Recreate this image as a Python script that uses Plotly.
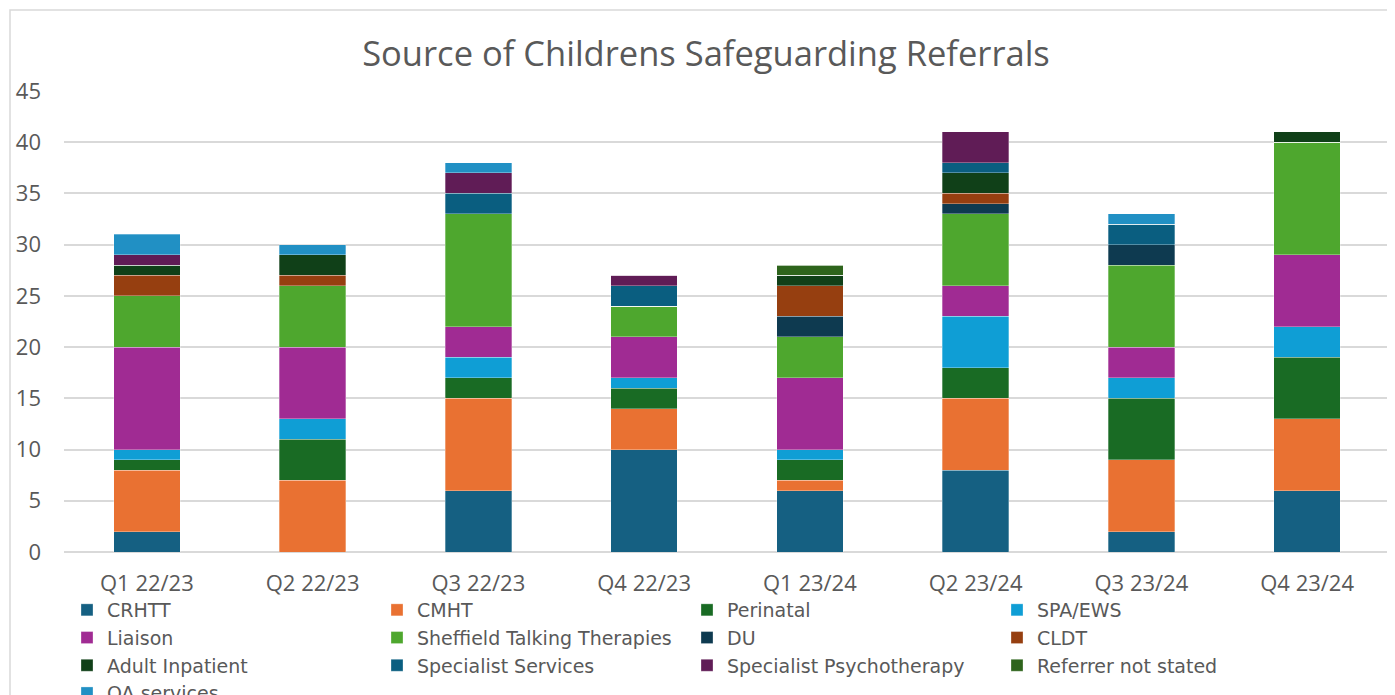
import plotly.graph_objects as go

categories = ["Q1 22/23", "Q2 22/23", "Q3 22/23", "Q4 22/23", "Q1 23/24", "Q2 23/24", "Q3 23/24", "Q4 23/24"]

crhtt = [2, 0, 6, 10, 6, 8, 2, 6]
cmht = [6, 7, 9, 4, 1, 7, 7, 7]
perinatal = [1, 4, 2, 2, 2, 3, 6, 6]
spa_ews = [1, 2, 2, 1, 1, 5, 2, 3]
liaison = [10, 7, 3, 4, 7, 3, 3, 7]
stt = [5, 6, 11, 3, 4, 7, 8, 11]
du = [0, 0, 0, 0, 2, 1, 2, 0]
cldt = [2, 1, 0, 0, 3, 1, 0, 0]
adult_inpatient = [1, 2, 0, 0, 1, 2, 0, 1]
specialist_services = [0, 0, 2, 2, 0, 1, 2, 0]
specialist_psychotherapy = [1, 0, 2, 1, 0, 3, 0, 0]
referrer_not_stated = [0, 0, 0, 0, 1, 0, 0, 0]
oa_services = [2, 1, 1, 0, 0, 0, 1, 0]

series = [
    ("CRHTT", crhtt, "#156082"),
    ("CMHT", cmht, "#E97132"),
    ("Perinatal", perinatal, "#196B24"),
    ("SPA/EWS", spa_ews, "#0F9ED5"),
    ("Liaison", liaison, "#A02B93"),
    ("Sheffield Talking Therapies", stt, "#4EA72E"),
    ("DU", du, "#0E3A50"),
    ("CLDT", cldt, "#963F10"),
    ("Adult Inpatient", adult_inpatient, "#104018"),
    ("Specialist Services", specialist_services, "#0A5E80"),
    ("Specialist Psychotherapy", specialist_psychotherapy, "#601C56"),
    ("Referrer not stated", referrer_not_stated, "#2E641C"),
    ("OA services", oa_services, "#2190C4"),
]

fig = go.Figure()
for name, vals, col in series:
    fig.add_trace(go.Bar(
        name=name, x=categories, y=vals,
        marker=dict(color=col, line=dict(color="rgba(255,255,255,0.6)", width=0.5)),
    ))

font_family = "Open Sans, Liberation Sans, sans-serif"
legend_family = "DejaVu Sans, sans-serif"
grey = "#595959"

# figure is drawn at an 8px page offset
OFF = 8
W, H = 1395 - OFF, 695 - OFF
L = 64 - OFF
T = 91 - OFF
R = W - (1390 - OFF)
B = H - (552 - OFF)
pw = W - L - R
ph = H - T - B

fig.update_layout(
    width=W, height=H,
    barmode="stack",
    bargap=0.6,
    plot_bgcolor="white",
    paper_bgcolor="white",
    margin=dict(l=L, r=R, t=T, b=B, autoexpand=False),
    title=dict(
        text="Source of Childrens Safeguarding Referrals",
        x=(706 - OFF) / W, xanchor="center",
        y=1 - (54 - OFF) / H, yanchor="middle",
        font=dict(family=font_family, size=34.5, color=grey),
    ),
    font=dict(family=font_family, color=grey, size=22),
    xaxis=dict(
        showgrid=False, showline=False, zeroline=False,
        tickfont=dict(size=22, color=grey), ticks="",
        ticklabelstandoff=16,
        automargin=False,
    ),
    yaxis=dict(
        range=[0, 45], dtick=5, showgrid=True, gridcolor="#D9D9D9", gridwidth=1.5,
        zeroline=True, zerolinecolor="#D9D9D9", zerolinewidth=1.5,
        tickfont=dict(size=22, color=grey), ticks="",
        ticklabelstandoff=22,
        showline=False,
        automargin=False,
    ),
    legend=dict(
        orientation="h",
        xref="container", yref="container",
        x=59 / W, xanchor="left",
        y=1 - 583 / H, yanchor="top",
        entrywidth=265, entrywidthmode="pixels",
        traceorder="normal",
        font=dict(family=legend_family, size=19, color=grey),
        bgcolor="rgba(0,0,0,0)",
        itemclick=False,
        tracegroupgap=0,
    ),
    showlegend=True,
)

fig.add_shape(
    type="rect", xref="paper", yref="paper",
    x0=(10 - 64) / pw, x1=(1393 - 64) / pw,
    y0=(552 - 720) / ph, y1=(552 - 10) / ph,
    line=dict(color="#D9D9D9", width=1.5), fillcolor="rgba(0,0,0,0)", layer="below",
)

fig.write_html("out.html")
